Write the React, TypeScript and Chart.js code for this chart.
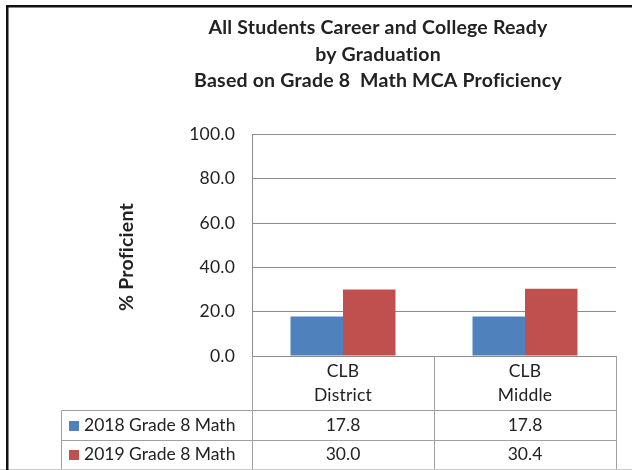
import React, { useEffect, useRef } from "react";
import { Chart, registerables } from "chart.js";

Chart.register(...registerables);

const titleLines = [
  "All Students Career and College Ready",
  "by Graduation",
  "Based on Grade 8  Math MCA Proficiency",
];
const yAxisTitle = "% Proficient";
const categories = [["CLB", "District"], ["CLB", "Middle"]];
const seriesNames = ["2018 Grade 8 Math", "2019 Grade 8 Math"];
const values2018 = [17.8, 17.8];
const values2019 = [30.0, 30.4];
const seriesColors = ["#4F81BD", "#C0504D"];
const yMin = 0;
const yMax = 100;
const yStep = 20;

const FONT = "Lato, 'Open Sans', sans-serif";
const TEXT = "#222222";
const TABLE_LINE = "#a0a0a0";

const tablePlugin = {
  id: "tableAndFrame",
  beforeDraw(chart: any) {
    const { ctx, width, height } = chart;
    ctx.save();
    ctx.fillStyle = "#ffffff";
    ctx.fillRect(0, 0, width, height);
    ctx.restore();
    // a tiny letter spacing keeps the browser from forming "ti"/"fi" ligatures
    ctx.letterSpacing = "0.2px";
  },
  afterDraw(chart: any) {
    const { ctx, chartArea } = chart;
    const xs = chart.scales.x;
    const seriesData = [values2018, values2019];
    const n = categories.length;
    const catW = (chartArea.right - chartArea.left) / n;
    const top = chartArea.bottom;
    const row1 = 410.5;
    const row2 = 440.5;
    const bottom = 469;
    const tableLeft = 61;

    ctx.save();
    ctx.strokeStyle = TABLE_LINE;
    ctx.lineWidth = 1;
    ctx.beginPath();
    ctx.moveTo(tableLeft + 0.5, row1);
    ctx.lineTo(chartArea.right, row1);
    ctx.moveTo(tableLeft + 0.5, row2);
    ctx.lineTo(chartArea.right, row2);
    ctx.moveTo(tableLeft + 0.5, row1);
    ctx.lineTo(tableLeft + 0.5, bottom);
    for (let i = 0; i <= n; i++) {
      const x = Math.round(chartArea.left + i * catW) + 0.5;
      ctx.moveTo(x, top);
      ctx.lineTo(x, bottom);
    }
    ctx.stroke();
    ctx.strokeStyle = "#c8c8c8";
    ctx.beginPath();
    ctx.moveTo(0, bottom + 0.5);
    ctx.lineTo(chart.width, bottom + 0.5);
    ctx.stroke();

    const rowCenters = [(row1 + row2) / 2, (row2 + bottom) / 2];
    ctx.font = `17.5px ${FONT}`;
    ctx.textBaseline = "middle";
    seriesNames.forEach((name, s) => {
      const cy = rowCenters[s];
      ctx.fillStyle = seriesColors[s];
      ctx.fillRect(69, Math.round(cy - 5), 10, 10);
      ctx.fillStyle = TEXT;
      ctx.textAlign = "left";
      ctx.letterSpacing = "0px";
      ctx.fillText(name, 84, cy);
      ctx.textAlign = "center";
      seriesData[s].forEach((v, i) => {
        ctx.fillText(v.toFixed(1), xs.getPixelForValue(i), cy);
      });
    });

    ctx.font = `bold 19.5px ${FONT}`;
    ctx.letterSpacing = "0.2px";
    ctx.fillStyle = TEXT;
    ctx.translate(127, 257);
    ctx.rotate(-Math.PI / 2);
    ctx.textAlign = "center";
    ctx.textBaseline = "middle";
    ctx.fillText(yAxisTitle, 0, 0);
    ctx.restore();

    ctx.save();
    ctx.strokeStyle = "#111111";
    ctx.lineWidth = 2.5;
    ctx.beginPath();
    ctx.moveTo(chart.width, 6.25);
    ctx.lineTo(7.25, 6.25);
    ctx.lineTo(7.25, chart.height);
    ctx.stroke();
    ctx.restore();
  },
};

export default function App() {
  const ref = useRef<HTMLCanvasElement | null>(null);

  useEffect(() => {
    if (!ref.current) return;
    const chart = new Chart(ref.current, {
      type: "bar",
      data: {
        labels: categories as any,
        datasets: [
          {
            label: seriesNames[0],
            data: values2018,
            backgroundColor: seriesColors[0],
            borderWidth: 0,
            categoryPercentage: 0.577,
            barPercentage: 1,
          },
          {
            label: seriesNames[1],
            data: values2019,
            backgroundColor: seriesColors[1],
            borderWidth: 0,
            categoryPercentage: 0.577,
            barPercentage: 1,
          },
        ],
      },
      options: {
        responsive: false,
        animation: false,
        devicePixelRatio: 1,
        layout: { padding: { left: 140, right: 16, top: 0, bottom: 0 } },
        plugins: {
          legend: { display: false },
          tooltip: { enabled: false },
          title: {
            display: true,
            text: titleLines,
            color: TEXT,
            font: { family: FONT, size: 19.5, weight: "bold", lineHeight: "26.5px" } as any,
            padding: { top: 14.5, bottom: 40.5 },
          },
        },
        scales: {
          x: {
            grid: { display: false, drawTicks: false },
            border: { display: false },
            ticks: {
              color: TEXT,
              padding: 3,
              maxRotation: 0,
              autoSkip: false,
              font: { family: FONT, size: 17.5, lineHeight: "24px" } as any,
            },
            afterFit: (scale: any) => {
              scale.height = 114;
            },
          },
          y: {
            min: yMin,
            max: yMax,
            grid: { color: "#8c8c8c", drawTicks: false, lineWidth: 1 },
            border: { display: true, color: "#8c8c8c" },
            ticks: {
              stepSize: yStep,
              color: TEXT,
              padding: 17,
              font: { family: FONT, size: 17.5 },
              callback: (v: any) => Number(v).toFixed(1),
            },
            afterFit: (scale: any) => {
              scale.width = 112;
            },
          },
        },
      },
      plugins: [tablePlugin],
    });
    return () => chart.destroy();
  }, []);

  return (
    <div style={{ position: "fixed", left: 0, top: 0, width: 632, height: 470, background: "#fff" }}>
      <canvas ref={ref} width={632} height={470} style={{ display: "block" }} />
    </div>
  );
}
